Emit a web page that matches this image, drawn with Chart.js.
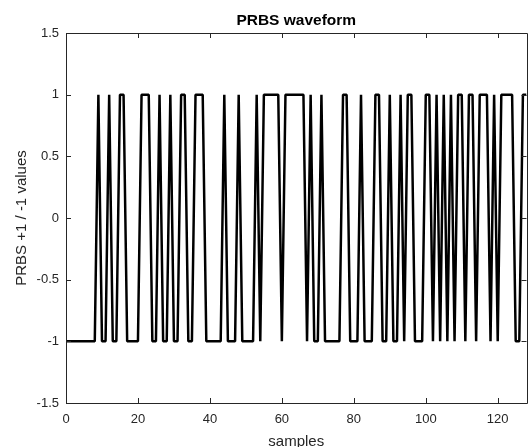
<!DOCTYPE html>
<html>
<head>
<meta charset="utf-8">
<script src="https://cdn.jsdelivr.net/npm/chart.js@4/dist/chart.umd.min.js"></script>
<style>
  html, body { margin: 0; padding: 0; background: #ffffff; overflow: hidden; }
  #wrap { width: 530px; height: 447px; }
</style>
</head>
<body>
<div id="wrap"><canvas id="c" width="530" height="447"></canvas></div>
<script>
// ---- data ----
const titleText = "PRBS waveform";
const xTitle = "samples";
const yTitle = "PRBS +1 / -1 values";
const prbsValues = [
  -1,-1,-1,-1,-1,-1,-1,-1,-1, 1,   // 0-9
  -1,-1, 1,-1,-1, 1, 1,-1,-1,-1,   // 10-19
  -1, 1, 1, 1,-1,-1, 1,-1,-1, 1,   // 20-29
  -1,-1, 1, 1,-1,-1, 1, 1, 1,-1,   // 30-39
  -1,-1,-1,-1, 1,-1,-1,-1, 1,-1,   // 40-49
  -1,-1,-1, 1,-1, 1, 1, 1, 1, 1,   // 50-59
  -1, 1, 1, 1, 1, 1, 1,-1, 1,-1,   // 60-69
  -1, 1,-1,-1,-1,-1,-1, 1, 1,-1,   // 70-79
  -1,-1, 1,-1,-1,-1, 1, 1,-1,-1,   // 80-89
   1,-1,-1, 1,-1, 1, 1,-1,-1,-1,   // 90-99
   1, 1,-1, 1,-1, 1,-1, 1,-1, 1,   // 100-109
   1,-1, 1, 1,-1, 1, 1, 1,-1, 1,   // 110-119
  -1, 1, 1, 1, 1,-1,-1, 1, 1       // 120-128
];
const xTickValues = [0, 20, 40, 60, 80, 100, 120];
const yTickValues = [-1.5, -1, -0.5, 0, 0.5, 1, 1.5];
const yTickLabels = ["-1.5", "-1", "-0.5", "0", "0.5", "1", "1.5"];
const xRange = [0, 128];
const yRange = [-1.5, 1.5];

const axisColor = "#262626";
const fontFamily = "'Liberation Sans', Arial, Helvetica, sans-serif";

const points = prbsValues.map((v, i) => ({ x: i, y: v }));

// inward ticks and box border, MATLAB style, positioned via the chart's scales
const boxPlugin = {
  id: "boxTicks",
  afterDatasetsDraw(chart) {
    const { ctx, chartArea: a, scales } = chart;
    const tl = 5;
    ctx.save();
    ctx.strokeStyle = axisColor;
    ctx.lineWidth = 1;
    ctx.beginPath();
    ctx.rect(Math.round(a.left) + 0.5, Math.round(a.top) + 0.5,
             Math.round(a.right - a.left), Math.round(a.bottom - a.top));
    ctx.stroke();
    ctx.beginPath();
    xTickValues.forEach(v => {
      const px = Math.round(scales.x.getPixelForValue(v)) + 0.5;
      ctx.moveTo(px, a.bottom); ctx.lineTo(px, a.bottom - tl);
      ctx.moveTo(px, a.top); ctx.lineTo(px, a.top + tl);
    });
    yTickValues.forEach(v => {
      const py = Math.round(scales.y.getPixelForValue(v)) + 0.5;
      ctx.moveTo(a.left, py); ctx.lineTo(a.left + tl, py);
      ctx.moveTo(a.right, py); ctx.lineTo(a.right - tl, py);
    });
    ctx.stroke();
    ctx.restore();
  }
};

new Chart(document.getElementById("c"), {
  type: "line",
  data: {
    datasets: [{
      data: points,
      borderColor: "#000000",
      borderWidth: 2.5,
      pointRadius: 0,
      tension: 0,
      borderJoinStyle: "bevel",
      fill: false
    }]
  },
  options: {
    responsive: false,
    animation: false,
    devicePixelRatio: 1,
    layout: { padding: { left: 0, right: 3.5, top: 0, bottom: 0 } },
    plugins: {
      legend: { display: false },
      tooltip: { enabled: false },
      title: {
        display: true,
        text: titleText,
        fullSize: false,
        color: "#000000",
        font: { family: fontFamily, size: 15.5, weight: "bold" },
        padding: { top: 11, bottom: 3.4 }
      }
    },
    scales: {
      x: {
        type: "linear",
        min: xRange[0],
        max: xRange[1],
        afterBuildTicks: s => { s.ticks = xTickValues.map(v => ({ value: v })); },
        afterFit: s => { s.height = 44; },
        grid: { display: false, drawTicks: false },
        border: { display: false },
        ticks: {
          color: axisColor,
          padding: 9,
          maxRotation: 0,
          font: { family: fontFamily, size: 13 },
          callback: v => String(v)
        },
        title: {
          display: true,
          text: xTitle,
          color: axisColor,
          font: { family: fontFamily, size: 15 },
          padding: { top: 0, bottom: -4 }
        }
      },
      y: {
        type: "linear",
        min: yRange[0],
        max: yRange[1],
        afterBuildTicks: s => { s.ticks = yTickValues.map(v => ({ value: v })); },
        afterFit: s => { s.width = 66; },
        grid: { display: false, drawTicks: false },
        border: { display: false },
        ticks: {
          color: axisColor,
          padding: 7,
          font: { family: fontFamily, size: 13 },
          callback: (v, i) => yTickLabels[i]
        },
        title: {
          display: true,
          text: yTitle,
          color: axisColor,
          font: { family: fontFamily, size: 15 },
          padding: { top: 13, bottom: 0 }
        }
      }
    }
  },
  plugins: [boxPlugin]
});
</script>
</body>
</html>
